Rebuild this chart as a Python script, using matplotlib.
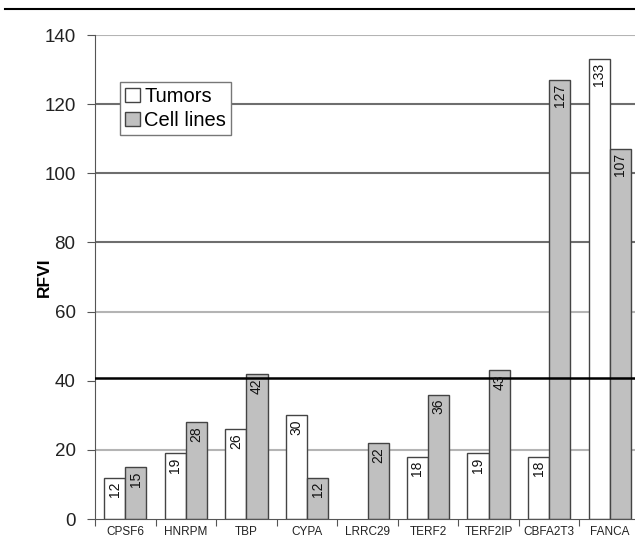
import numpy as np
import matplotlib.pyplot as plt
from matplotlib.lines import Line2D

plt.rcParams['font.family'] = ['Liberation Sans', 'DejaVu Sans']

genes = ['CPSF6', 'HNRPM', 'TBP', 'CYPA', 'LRRC29', 'TERF2', 'TERF2IP', 'CBFA2T3', 'FANCA']
tumors = [12, 19, 26, 30, None, 18, 19, 18, 133]
cell_lines = [15, 28, 42, 12, 22, 36, 43, 127, 107]
threshold = 40.8

fig = plt.figure(figsize=(6.35, 5.4), dpi=100)
ax = fig.add_axes([95 / 635, 21 / 540, 545 / 635, 484 / 540])

x = np.arange(len(genes))
w = 0.35

# grid lines (dark for 80-120, light for the rest, as in the original)
for yv in [20, 60, 140]:
    ax.axhline(yv, color='#b4b4b4', lw=1.5, zorder=0)
for yv in [80, 100, 120]:
    ax.axhline(yv, color='#6e6e6e', lw=1.5, zorder=0)

t_vals = [v if v is not None else 0 for v in tumors]
b1 = ax.bar(x - w / 2, t_vals, w, color='white', edgecolor='#444444', lw=1, zorder=2)
b2 = ax.bar(x + w / 2, cell_lines, w, color='#c0c0c0', edgecolor='#444444', lw=1, zorder=2)
for i, v in enumerate(tumors):
    if v is None:
        b1[i].set_visible(False)

ax.axhline(threshold, color='black', lw=1.8, zorder=3)

for bars, vals in [(b1, tumors), (b2, cell_lines)]:
    for b, v in zip(bars, vals):
        if v is None:
            continue
        ax.annotate(str(v), (b.get_x() + b.get_width() / 2, b.get_height()),
                    xytext=(0, -3), textcoords='offset points', rotation=90,
                    ha='center', va='top', fontsize=10, color='#111111', zorder=4)

ax.set_xlim(-0.5, len(genes) - 0.5)
ax.set_ylim(0, 140)
ax.set_yticks(range(0, 141, 20))
ax.tick_params(axis='y', labelsize=13.5, length=6, pad=8, color='#555555', labelcolor='#222222')
ax.set_xticks(np.arange(len(genes) + 1) - 0.5, minor=False)
ax.set_xticklabels([])
ax.set_xticks(x, minor=True)
ax.set_xticklabels(genes, minor=True, fontsize=8.5, color='#222222')
ax.tick_params(axis='x', which='major', length=5, color='#555555')
ax.tick_params(axis='x', which='minor', length=0, pad=5)
ax.set_ylabel('RFVI', fontsize=12.5, fontweight='bold')
ax.yaxis.set_label_coords(-0.08, 0.5)

for s in ['top', 'right']:
    ax.spines[s].set_visible(False)
ax.spines['left'].set_color('#555555')
ax.spines['bottom'].set_color('#555555')

leg = ax.legend([b1[0], b2[0]], ['Tumors', 'Cell lines'], loc='upper left',
                bbox_to_anchor=(0.046, 0.903), borderaxespad=0, fontsize=14.5,
                fancybox=False, edgecolor='#777777', handlelength=0.75, handleheight=0.75,
                handletextpad=0.2, borderpad=0.25, labelspacing=0.25, framealpha=1)
leg.get_frame().set_linewidth(1)

fig.add_artist(Line2D([5 / 635, 1], [531 / 540, 531 / 540], color='black', lw=1.5))

fig.savefig('out.png', dpi=100)
